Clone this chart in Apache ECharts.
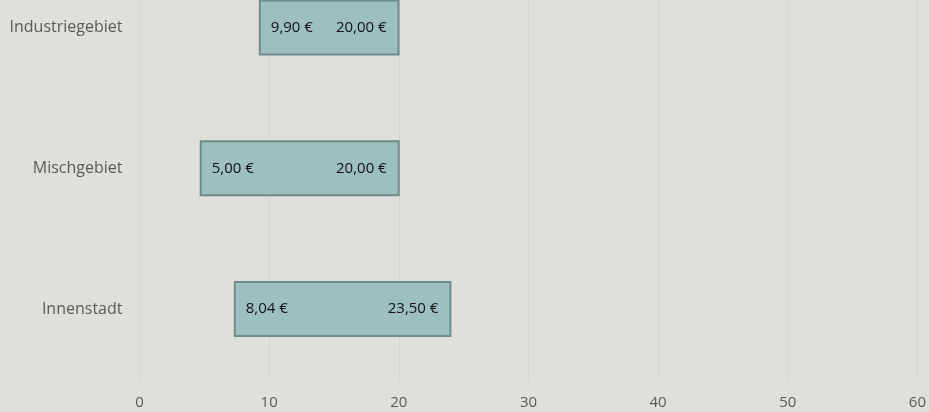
<!DOCTYPE html>
<html>

<head>
    <meta charset="utf-8">
    <script src="https://cdn.jsdelivr.net/npm/echarts@6/dist/echarts.min.js"></script>
    <style>
        html, body { margin: 0; padding: 0; background: #e0e0da; overflow: hidden; height: 412px; }
        /* Diagramm oben abgeschnitten wie im Original */
        #main { position: relative; top: -43px; }
    </style>
</head>

<body>
    <div id="main" style="width: 929px;height:455px;"></div>
    <script type="text/javascript">
        // Kategorien (von unten nach oben)
        var categories = ['Innenstadt', 'Mischgebiet', 'Industriegebiet'];
        // Balkenanfang / -ende
        var barStart = [7.35, 4.72, 9.28];
        var barEnd = [23.98, 19.99, 19.98];
        // Beschriftungswerte
        var lowLabels = [8.04, 5.00, 9.90];
        var highLabels = [23.50, 20.00, 20.00];
        var xTicks = [0, 10, 20, 30, 40, 50, 60];

        function euro(v) {
            return v.toFixed(2).replace('.', ',') + ' €';
        }

        var data = categories.map(function (c, i) {
            return [i, barStart[i], barEnd[i], lowLabels[i], highLabels[i]];
        });

        var chartDom = document.getElementById('main');
        var myChart = echarts.init(chartDom);
        var font = '15px "Open Sans", sans-serif';

        var option = {
            backgroundColor: '#e0e0da',
            animation: false,
            grid: { left: 139.5, right: 10.5, top: 0, bottom: 32.5 },
            xAxis: {
                type: 'value',
                min: xTicks[0],
                max: xTicks[xTicks.length - 1],
                interval: 10,
                axisLine: { show: false },
                axisTick: { show: false },
                axisLabel: { color: '#595959', fontSize: 15, fontFamily: 'Open Sans', margin: 16 },
                splitLine: { lineStyle: { color: '#d5d5cf', width: 1 } }
            },
            yAxis: {
                type: 'category',
                data: categories,
                axisLine: { show: false },
                axisTick: { show: false },
                axisLabel: { color: '#595959', fontSize: 16, fontFamily: 'Open Sans', margin: 17 },
                splitLine: { show: false }
            },
            series: [{
                type: 'custom',
                encode: { x: [1, 2], y: 0 },
                data: data,
                renderItem: function (params, api) {
                    var cat = api.value(0);
                    var s = api.coord([api.value(1), cat]);
                    var e = api.coord([api.value(2), cat]);
                    var h = 54;
                    return {
                        type: 'group',
                        children: [
                            {
                                type: 'rect',
                                shape: { x: s[0], y: s[1] - h / 2, width: e[0] - s[0], height: h },
                                style: { fill: '#9dbfbf', stroke: '#6f8b8b', lineWidth: 2 }
                            },
                            {
                                type: 'text',
                                x: s[0] + 11, y: s[1],
                                style: { text: euro(api.value(3)), font: font, fill: '#111', align: 'left', verticalAlign: 'middle' }
                            },
                            {
                                type: 'text',
                                x: e[0] - 12, y: s[1],
                                style: { text: euro(api.value(4)), font: font, fill: '#111', align: 'right', verticalAlign: 'middle' }
                            }
                        ]
                    };
                }
            }]
        };
        myChart.setOption(option);
    </script>
</body>

</html>
